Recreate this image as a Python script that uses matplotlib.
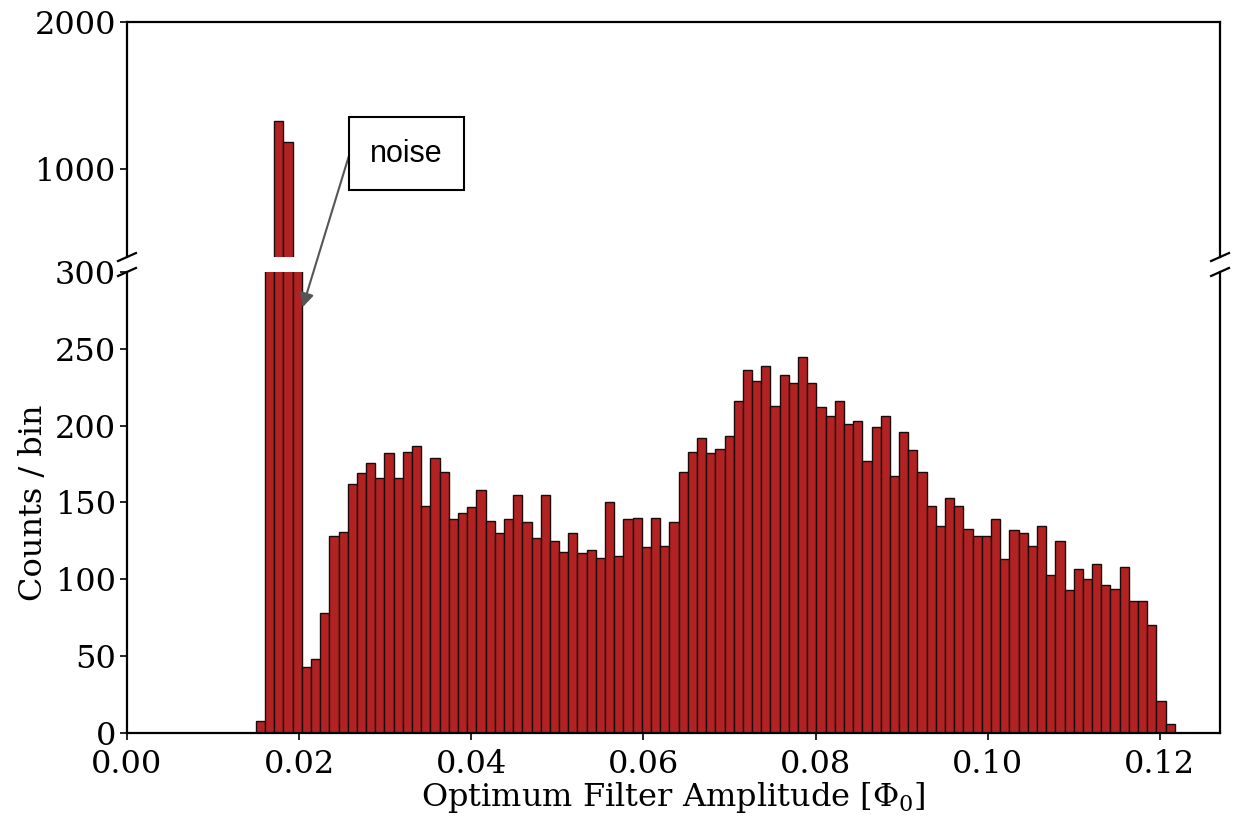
import numpy as np
import matplotlib
matplotlib.use("Agg")
import matplotlib.pyplot as plt

plt.rcParams['font.family'] = 'DejaVu Serif'
plt.rcParams['mathtext.fontset'] = 'dejavuserif'

# histogram: 100 equal bins between bin_lo and bin_hi
bin_lo = 0.01497
bin_hi = 0.12174
counts = [8, 360, 1324, 1180, 350, 43, 48, 78, 128, 131,
          162, 169, 176, 166, 182, 166, 183, 187, 148, 179,
          170, 139, 143, 147, 158, 138, 130, 139, 155, 137,
          127, 155, 125, 118, 130, 117, 119, 114, 150, 115,
          139, 140, 121, 140, 122, 137, 170, 183, 192, 182,
          185, 193, 216, 236, 229, 239, 213, 233, 228, 245,
          228, 212, 206, 216, 201, 203, 177, 199, 206, 167,
          196, 184, 170, 148, 135, 153, 148, 133, 128, 128,
          139, 113, 132, 130, 122, 135, 103, 125, 93, 107,
          100, 110, 96, 94, 108, 86, 86, 70, 21, 6]
edges = np.linspace(bin_lo, bin_hi, len(counts) + 1)
centers = 0.5 * (edges[:-1] + edges[1:])

xticks = [0.00, 0.02, 0.04, 0.06, 0.08, 0.10, 0.12]
yticks_top = [1000, 2000]
yticks_bot = [0, 50, 100, 150, 200, 250, 300]

fs = 23
fig = plt.figure(figsize=(12.33, 8.17), dpi=100)
ax_top = fig.add_axes([0.1030, 0.6854, 0.8865, 0.2877])
ax_bot = fig.add_axes([0.1030, 0.1028, 0.8865, 0.5643], sharex=ax_top)

for ax in (ax_top, ax_bot):
    ax.hist(centers, bins=edges, weights=counts, color='#b22222',
            edgecolor='#1a0a0a', linewidth=1.0)
    for s in ax.spines.values():
        s.set_linewidth(1.6)
    ax.tick_params(direction='out', length=5, width=1.2, labelsize=fs, pad=3)

ax_top.set_ylim(400, 2000)
ax_bot.set_ylim(0, 300)
ax_bot.set_xlim(0, 0.127)
ax_top.set_yticks(yticks_top)
ax_bot.set_yticks(yticks_bot)
ax_bot.set_xticks(xticks)
ax_bot.set_xticklabels(['%.2f' % t for t in xticks])
ax_bot.tick_params(axis='x', pad=6.5)

ax_top.spines['bottom'].set_visible(False)
ax_bot.spines['top'].set_visible(False)
ax_top.tick_params(bottom=False, labelbottom=False)
ax_bot.tick_params(top=False)

# break marks
dx = 0.0082
for ax, dy, y0 in ((ax_top, 0.017, 0), (ax_bot, 0.0087, 1)):
    kw = dict(transform=ax.transAxes, color='k', clip_on=False, lw=1.6)
    ax.plot((-dx, dx), (y0 - dy, y0 + dy), **kw)
    ax.plot((1 - dx, 1 + dx), (y0 - dy, y0 + dy), **kw)

ax_bot.set_xlabel(r'Optimum Filter Amplitude [$\Phi_0$]', fontsize=fs, labelpad=0)
ax_bot.set_ylabel('Counts / bin', fontsize=fs)

# noise label: box plus arrow starting at the box's left edge
fig.text(0.3297, 0.8121, 'noise', ha='center', va='center', fontsize=22,
         family='Liberation Sans', zorder=5,
         bbox=dict(boxstyle='square,pad=0.7', fc='white', ec='black', lw=1.5))
ax_bot.annotate('', xy=(0.0204, 277), xycoords='data',
                xytext=(0.2832, 0.8103), textcoords='figure fraction',
                annotation_clip=False,
                arrowprops=dict(arrowstyle='-|>,head_length=0.6,head_width=0.3',
                                color='#555555', lw=1.5,
                                shrinkA=0, shrinkB=0, mutation_scale=14))

plt.savefig('out.png', dpi=100)
